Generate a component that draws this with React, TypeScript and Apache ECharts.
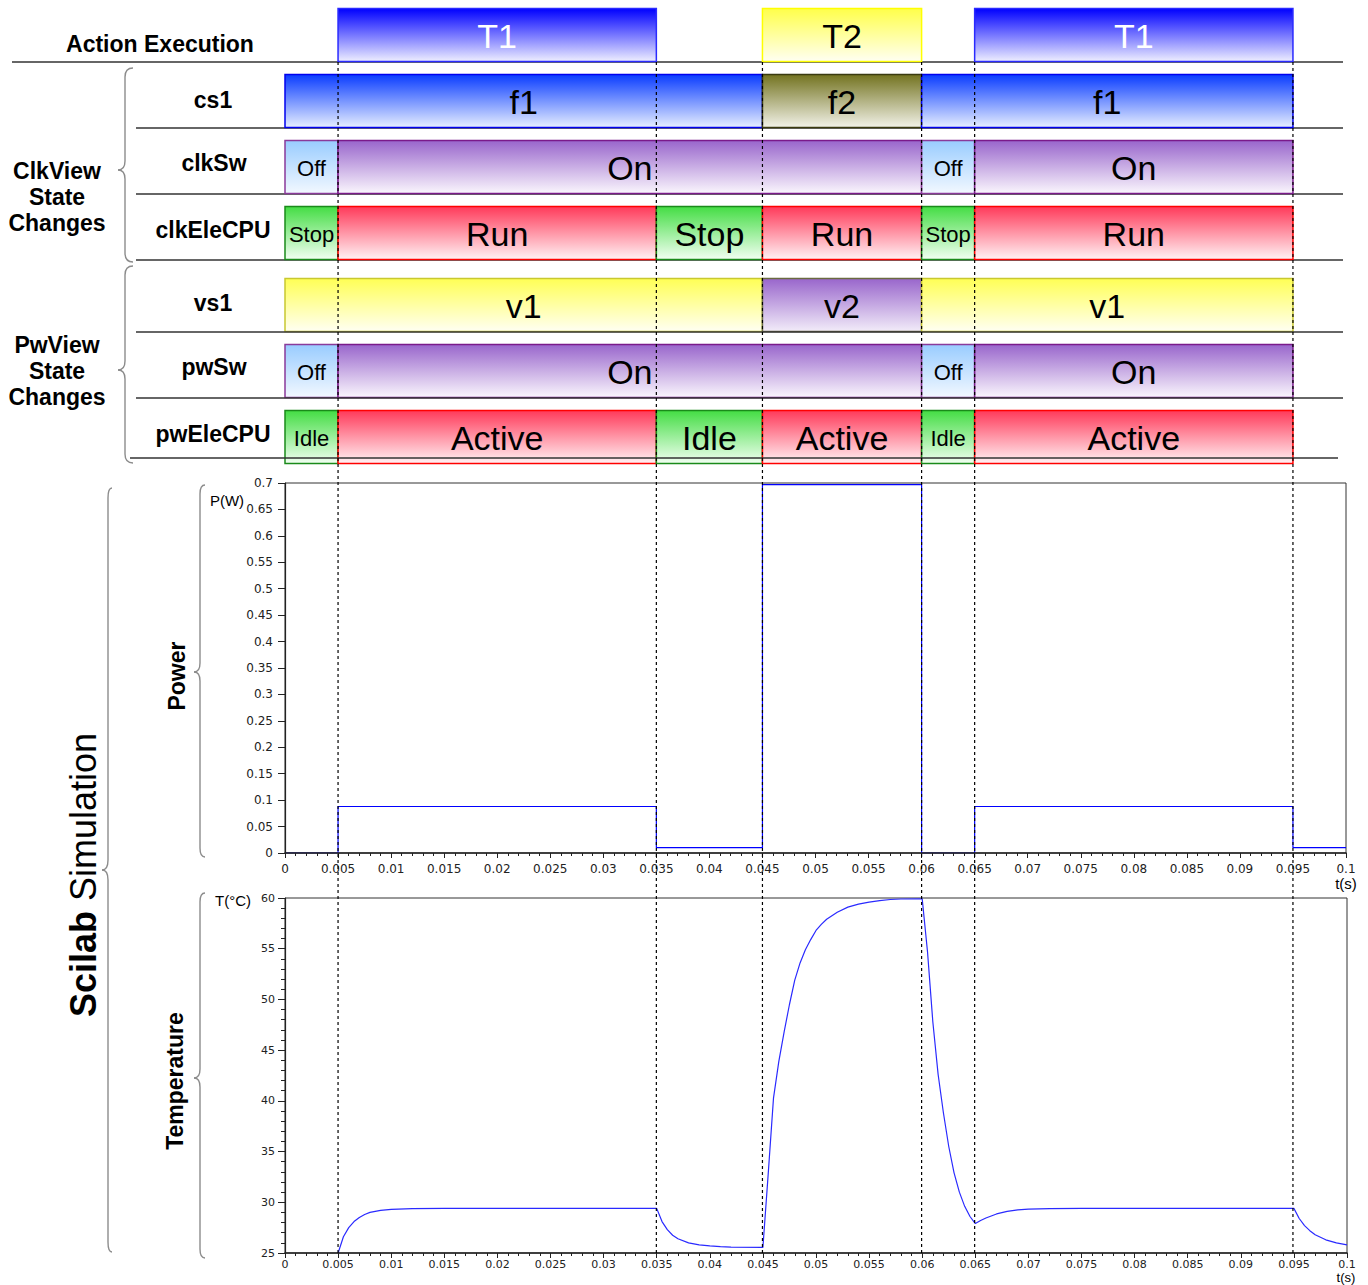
import React, { useEffect, useRef } from "react";
import * as echarts from "echarts";

// ---------------- data ----------------
const X_MIN = 0;
const X_MAX = 0.1;
const X_INTERVAL = 0.005;

const clkRowNames = ["Action Execution", "cs1", "clkSw", "clkEleCPU"];
const pwRowNames = ["vs1", "pwSw", "pwEleCPU"];

const actionSegments: [number, number, string][] = [
  [0.005, 0.035, "T1"],
  [0.045, 0.06, "T2"],
  [0.065, 0.095, "T1"],
];
const cs1Segments: [number, number, string][] = [
  [0, 0.045, "f1"],
  [0.045, 0.06, "f2"],
  [0.06, 0.095, "f1"],
];
const clkSwSegments: [number, number, string][] = [
  [0, 0.005, "Off"],
  [0.005, 0.06, "On"],
  [0.06, 0.065, "Off"],
  [0.065, 0.095, "On"],
];
const clkEleCpuSegments: [number, number, string][] = [
  [0, 0.005, "Stop"],
  [0.005, 0.035, "Run"],
  [0.035, 0.045, "Stop"],
  [0.045, 0.06, "Run"],
  [0.06, 0.065, "Stop"],
  [0.065, 0.095, "Run"],
];
const vs1Segments: [number, number, string][] = [
  [0, 0.045, "v1"],
  [0.045, 0.06, "v2"],
  [0.06, 0.095, "v1"],
];
const pwSwSegments: [number, number, string][] = [
  [0, 0.005, "Off"],
  [0.005, 0.06, "On"],
  [0.06, 0.065, "Off"],
  [0.065, 0.095, "On"],
];
const pwEleCpuSegments: [number, number, string][] = [
  [0, 0.005, "Idle"],
  [0.005, 0.035, "Active"],
  [0.035, 0.045, "Idle"],
  [0.045, 0.06, "Active"],
  [0.06, 0.065, "Idle"],
  [0.065, 0.095, "Active"],
];

const eventTimes = [0.005, 0.035, 0.045, 0.06, 0.065, 0.095];

const powerTimes = [0, 0.005, 0.035, 0.045, 0.06, 0.065, 0.095, 0.1];
const powerValues = [0, 0.088, 0.01, 0.697, 0, 0.088, 0.01, 0.01];

const tempTimes = [
  0.005, 0.0055, 0.006, 0.0065, 0.007, 0.0075, 0.008, 0.009, 0.01, 0.012, 0.015,
  0.035, 0.0355, 0.036, 0.0365, 0.037, 0.038, 0.039, 0.04, 0.041, 0.042, 0.045,
  0.0455, 0.046, 0.0465, 0.047, 0.0475, 0.048, 0.0485, 0.049, 0.0495, 0.05, 0.0505,
  0.051, 0.052, 0.053, 0.054, 0.055, 0.056, 0.057, 0.058, 0.06,
  0.0605, 0.061, 0.0615, 0.062, 0.0625, 0.063, 0.0635, 0.064, 0.0645, 0.065,
  0.0655, 0.066, 0.067, 0.068, 0.069, 0.07, 0.072, 0.075, 0.095,
  0.0955, 0.096, 0.0965, 0.097, 0.098, 0.099, 0.1,
];
const tempValues = [
  25.0, 26.6, 27.5, 28.1, 28.5, 28.8, 29.0, 29.2, 29.3, 29.38, 29.4,
  29.4, 28.1, 27.3, 26.75, 26.4, 26.0, 25.8, 25.7, 25.62, 25.58, 25.55,
  32.8, 40.3, 43.9, 46.8, 49.5, 51.9, 53.6, 54.9, 55.9, 56.8, 57.4,
  57.9, 58.6, 59.1, 59.4, 59.6, 59.75, 59.85, 59.9, 59.92,
  54.7, 47.8, 42.6, 38.8, 35.5, 32.9, 31.0, 29.6, 28.6, 27.9,
  28.2, 28.45, 28.85, 29.1, 29.25, 29.32, 29.38, 29.4, 29.4,
  28.4, 27.7, 27.2, 26.8, 26.3, 26.0, 25.8,
];

// ---------------- styles ----------------
const stateStyle: Record<string, { top: string; bottom: string; stroke: string; text: string }> = {
  T1: { top: "#0000ff", bottom: "#eeeeff", stroke: "#2a2aff", text: "#ffffff" },
  T2: { top: "#ffff4a", bottom: "#fffff2", stroke: "#ffff00", text: "#000000" },
  f1: { top: "#0a3cff", bottom: "#e6eeff", stroke: "#0000ee", text: "#000000" },
  f2: { top: "#737320", bottom: "#f2f2e8", stroke: "#3a3a10", text: "#000000" },
  Off: { top: "#99ccff", bottom: "#f2f8ff", stroke: "#8a3a9a", text: "#000000" },
  On: { top: "#9966cc", bottom: "#faf6fd", stroke: "#7a1a8a", text: "#000000" },
  Stop: { top: "#44dd44", bottom: "#f2fff2", stroke: "#1a8a1a", text: "#000000" },
  Idle: { top: "#44dd44", bottom: "#f2fff2", stroke: "#1a8a1a", text: "#000000" },
  Run: { top: "#ff3a5a", bottom: "#fff2f4", stroke: "#ff0000", text: "#000000" },
  Active: { top: "#ff3a5a", bottom: "#fff2f4", stroke: "#ff0000", text: "#000000" },
  v1: { top: "#ffff55", bottom: "#fffff2", stroke: "#c8c830", text: "#000000" },
  v2: { top: "#9966cc", bottom: "#f2ecf9", stroke: "#6a6a40", text: "#000000" },
};

const LABEL_FONT = "'Liberation Sans', Arial, sans-serif";
const NARROW_FONT = "'Liberation Sans Narrow', 'Arial Narrow', 'Liberation Sans', sans-serif";
const AXIS_FONT = "'DejaVu Sans', sans-serif";

const grad = (top: string, bottom: string) => ({
  type: "linear",
  x: 0,
  y: 0,
  x2: 0,
  y2: 1,
  colorStops: [
    { offset: 0, color: top },
    { offset: 1, color: bottom },
  ],
});

function flatten(rows: [number, number, string][][]) {
  const out: { value: number[]; state: string }[] = [];
  rows.forEach((segs, r) => segs.forEach((s) => out.push({ value: [s[0], s[1], r], state: s[2] })));
  return out;
}

function segRenderer(items: { value: number[]; state: string }[]) {
  return (params: any, api: any) => {
    const it = items[params.dataIndex];
    const row = api.value(2);
    const p0 = api.coord([api.value(0), row]);
    const p1 = api.coord([api.value(1), row]);
    const band = api.size([0, 1])[1];
    const h = band * 0.8;
    const st = stateStyle[it.state];
    const w = p1[0] - p0[0];
    return {
      type: "group",
      children: [
        {
          type: "rect",
          shape: { x: p0[0], y: p0[1] - h / 2, width: w, height: h },
          style: { fill: grad(st.top, st.bottom), stroke: st.stroke, lineWidth: 1.5 },
        },
        {
          type: "text",
          style: {
            x: p0[0] + w / 2,
            y: p0[1] + 1,
            text: it.state,
            align: "center",
            verticalAlign: "middle",
            textAlign: "center",
            textVerticalAlign: "middle",
            fontSize: w < 70 ? 22 : 34,
            fontFamily: LABEL_FONT,
            fill: st.text,
          },
        },
      ],
    };
  };
}

function rowRenderer(
  names: string[],
  lineLeft: number[],
  lineRight: number[],
  lineOffset: number[],
  labelX: number[],
  labelDy: number[],
  labelSize: number[]
) {
  return (params: any, api: any) => {
    const r = params.dataIndex;
    const c = api.coord([X_MAX, r]);
    const y = c[1];
    return {
      type: "group",
      children: [
        {
          type: "line",
          shape: { x1: lineLeft[r], y1: y + lineOffset[r], x2: lineRight[r], y2: y + lineOffset[r] },
          style: { stroke: "#333333", lineWidth: 1.3 },
        },
        {
          type: "text",
          style: {
            x: labelX[r],
            y: y + labelDy[r],
            text: names[r],
            align: "center",
            verticalAlign: "middle",
            textAlign: "center",
            textVerticalAlign: "middle",
            fontSize: labelSize[r],
            fontWeight: "bold",
            fontFamily: LABEL_FONT,
            fill: "#000",
          },
        },
      ],
    };
  };
}

function brace(xTip: number, xLine: number, xPoint: number, y0: number, y1: number, ym: number, r: number) {
  const s = { stroke: "#8c8c8c", lineWidth: 1.4, fill: "none" };
  return {
    type: "group",
    silent: true,
    children: [
      { type: "bezierCurve", shape: { x1: xTip, y1: y0, x2: xLine, y2: y0 + r, cpx1: xLine, cpy1: y0 }, style: s },
      { type: "line", shape: { x1: xLine, y1: y0 + r, x2: xLine, y2: ym - r }, style: s },
      { type: "bezierCurve", shape: { x1: xLine, y1: ym - r, x2: xPoint, y2: ym, cpx1: xLine, cpy1: ym }, style: s },
      { type: "bezierCurve", shape: { x1: xPoint, y1: ym, x2: xLine, y2: ym + r, cpx1: xLine, cpy1: ym }, style: s },
      { type: "line", shape: { x1: xLine, y1: ym + r, x2: xLine, y2: y1 - r }, style: s },
      { type: "bezierCurve", shape: { x1: xLine, y1: y1 - r, x2: xTip, y2: y1, cpx1: xLine, cpy1: y1 }, style: s },
    ],
  };
}

function txt(x: number, y: number, text: string, extra: any = {}, rotation = 0) {
  return {
    type: "text",
    x,
    y,
    rotation,
    style: {
      text,
      x: 0,
      y: 0,
      align: "center",
      verticalAlign: "middle",
      textAlign: "center",
      textVerticalAlign: "middle",
      fill: "#000",
      fontFamily: LABEL_FONT,
      ...extra,
    },
  };
}

export default function App() {
  const ref = useRef<HTMLDivElement>(null);

  useEffect(() => {
    if (!ref.current) return;
    const chart = echarts.init(ref.current, undefined, { renderer: "svg" });

    const clkItems = flatten([actionSegments, cs1Segments, clkSwSegments, clkEleCpuSegments]);
    const pwItems = flatten([vs1Segments, pwSwSegments, pwEleCpuSegments]);

    const gridBase = { left: 285, width: 1061, outerBoundsMode: "none", containLabel: false };

    const hiddenX = (gi: number) => ({ type: "value", gridIndex: gi, min: X_MIN, max: X_MAX, show: false });

    const plotX = (gi: number, fontSize: number, margin: number) => ({
      type: "value",
      gridIndex: gi,
      min: X_MIN,
      max: X_MAX,
      interval: X_INTERVAL,
      z: 10,
      axisLine: { show: true, onZero: false, lineStyle: { color: "#222", width: 1.5 } },
      axisTick: { show: true, length: 5, lineStyle: { color: "#222" } },
      minorTick: { show: true, splitNumber: 5, length: 3, lineStyle: { color: "#222" } },
      splitLine: { show: false },
      axisLabel: {
        show: true,
        fontSize,
        fontFamily: AXIS_FONT,
        color: "#222",
        margin,
        showMinLabel: true,
        showMaxLabel: true,
        hideOverlap: false,
      },
    });

    const option: any = {
      animation: false,
      backgroundColor: "#ffffff",
      grid: [
        { ...gridBase, top: 2, height: 264 },
        { ...gridBase, top: 272, height: 198 },
        { ...gridBase, top: 483, height: 370, show: true, borderColor: "#333", borderWidth: 1, backgroundColor: "transparent" },
        { ...gridBase, width: 1062, top: 898, height: 355, show: true, borderColor: "#333", borderWidth: 1, backgroundColor: "transparent" },
        { ...gridBase, top: 62, height: 1191 },
      ],
      xAxis: [hiddenX(0), hiddenX(1), plotX(2, 12, 10), plotX(3, 11, 6), hiddenX(4)],
      yAxis: [
        { type: "category", gridIndex: 0, data: clkRowNames, inverse: true, show: false },
        { type: "category", gridIndex: 1, data: pwRowNames, inverse: true, show: false },
        {
          type: "value",
          gridIndex: 2,
          min: 0,
          max: 0.7,
          interval: 0.05,
          z: 10,
          axisLine: { show: true, lineStyle: { color: "#222", width: 1.2 } },
          axisTick: { show: true, length: 7, lineStyle: { color: "#222" } },
          splitLine: { show: false },
          axisLabel: { fontSize: 12, fontFamily: AXIS_FONT, color: "#222", margin: 12 },
        },
        {
          type: "value",
          gridIndex: 3,
          min: 25,
          max: 60,
          interval: 5,
          z: 10,
          axisLine: { show: true, lineStyle: { color: "#222", width: 1.2 } },
          axisTick: { show: true, length: 7, lineStyle: { color: "#222" } },
          minorTick: { show: true, splitNumber: 5, length: 4, lineStyle: { color: "#222" } },
          splitLine: { show: false },
          axisLabel: { fontSize: 11, fontFamily: AXIS_FONT, color: "#222", margin: 10 },
        },
        { type: "value", gridIndex: 4, min: 0, max: 1, show: false },
      ],
      series: [
        {
          type: "custom",
          xAxisIndex: 0,
          yAxisIndex: 0,
          encode: { x: [0, 1], y: 2 },
          data: clkItems.map((d) => d.value),
          renderItem: segRenderer(clkItems),
          z: 3,
        },
        {
          type: "custom",
          xAxisIndex: 0,
          yAxisIndex: 0,
          encode: { y: 0 },
          data: clkRowNames.map((_, i) => [i]),
          renderItem: rowRenderer(
            clkRowNames,
            [12, 136, 136, 136],
            [1343, 1343, 1343, 1343],
            [27, 27, 27, 27],
            [160, 213, 214, 213],
            [9, -1, -4, -3],
            [23, 23, 23, 23]
          ),
          z: 2,
        },
        {
          type: "custom",
          xAxisIndex: 1,
          yAxisIndex: 1,
          encode: { x: [0, 1], y: 2 },
          data: pwItems.map((d) => d.value),
          renderItem: segRenderer(pwItems),
          z: 3,
        },
        {
          type: "custom",
          xAxisIndex: 1,
          yAxisIndex: 1,
          encode: { y: 0 },
          data: pwRowNames.map((_, i) => [i]),
          renderItem: rowRenderer(
            pwRowNames,
            [136, 136, 130],
            [1343, 1343, 1338],
            [27, 27, 21],
            [213, 214, 213],
            [-2, -4, -3],
            [23, 23, 23]
          ),
          z: 4,
        },
        {
          type: "line",
          xAxisIndex: 2,
          yAxisIndex: 2,
          step: "end",
          showSymbol: false,
          data: powerTimes.map((t, i) => [t, powerValues[i]]),
          lineStyle: { color: "#0000ff", width: 1.2 },
          z: 1,
        },
        {
          type: "line",
          xAxisIndex: 3,
          yAxisIndex: 3,
          showSymbol: false,
          data: tempTimes.map((t, i) => [t, tempValues[i]]),
          lineStyle: { color: "#2a2aff", width: 1.2 },
          z: 1,
        },
        {
          type: "custom",
          xAxisIndex: 4,
          yAxisIndex: 4,
          encode: { x: 0 },
          data: eventTimes.map((t) => [t]),
          renderItem: (params: any, api: any) => {
            const t = api.value(0);
            const a = api.coord([t, 1]);
            const b = api.coord([t, 0]);
            return {
              type: "line",
              shape: { x1: a[0], y1: a[1], x2: b[0], y2: b[1] },
              style: { stroke: "#000", lineWidth: 1.2, lineDash: [3, 3] },
            };
          },
          z: 20,
        },
      ],
      graphic: [
        txt(57, 196.5, "ClkView\nState\nChanges", { fontSize: 23, fontWeight: "bold", lineHeight: 26 }),
        txt(57, 371, "PwView\nState\nChanges", { fontSize: 23, fontWeight: "bold", lineHeight: 26 }),
        brace(133, 125, 118, 68, 262, 170, 9),
        brace(133, 125, 118, 266, 463, 370, 9),
        brace(112, 108, 102, 488, 1252, 870, 10),
        brace(205, 200, 194, 485, 857, 672, 9),
        brace(205, 200, 194, 893, 1258, 1078, 9),
        {
          type: "text",
          x: 83,
          y: 875,
          rotation: Math.PI / 2,
          style: {
            text: "{b|Scilab }{n|Simulation}",
            x: 0,
            y: 0,
            align: "center",
            verticalAlign: "middle",
            textAlign: "center",
            textVerticalAlign: "middle",
            fill: "#000",
            rich: {
              b: { fontSize: 36, fontWeight: "bold", fontFamily: NARROW_FONT, fill: "#000" },
              n: { fontSize: 36, fontFamily: NARROW_FONT, fill: "#000" },
            },
          },
        },
        txt(177, 676, "Power", { fontSize: 23, fontWeight: "bold", fontFamily: NARROW_FONT }, Math.PI / 2),
        txt(175, 1081, "Temperature", { fontSize: 23, fontWeight: "bold", fontFamily: NARROW_FONT }, Math.PI / 2),
        txt(227, 500, "P(W)", { fontSize: 15 }),
        txt(233, 900, "T(°C)", { fontSize: 15 }),
        txt(1346, 883, "t(s)", { fontSize: 15 }),
        txt(1346, 1277, "t(s)", { fontSize: 13 }),
      ],
    };

    chart.setOption(option);
    return () => chart.dispose();
  }, []);

  return (
    <div
      ref={ref}
      style={{ position: "fixed", left: 0, top: 0, width: 1368, height: 1285, background: "#fff" }}
    />
  );
}
